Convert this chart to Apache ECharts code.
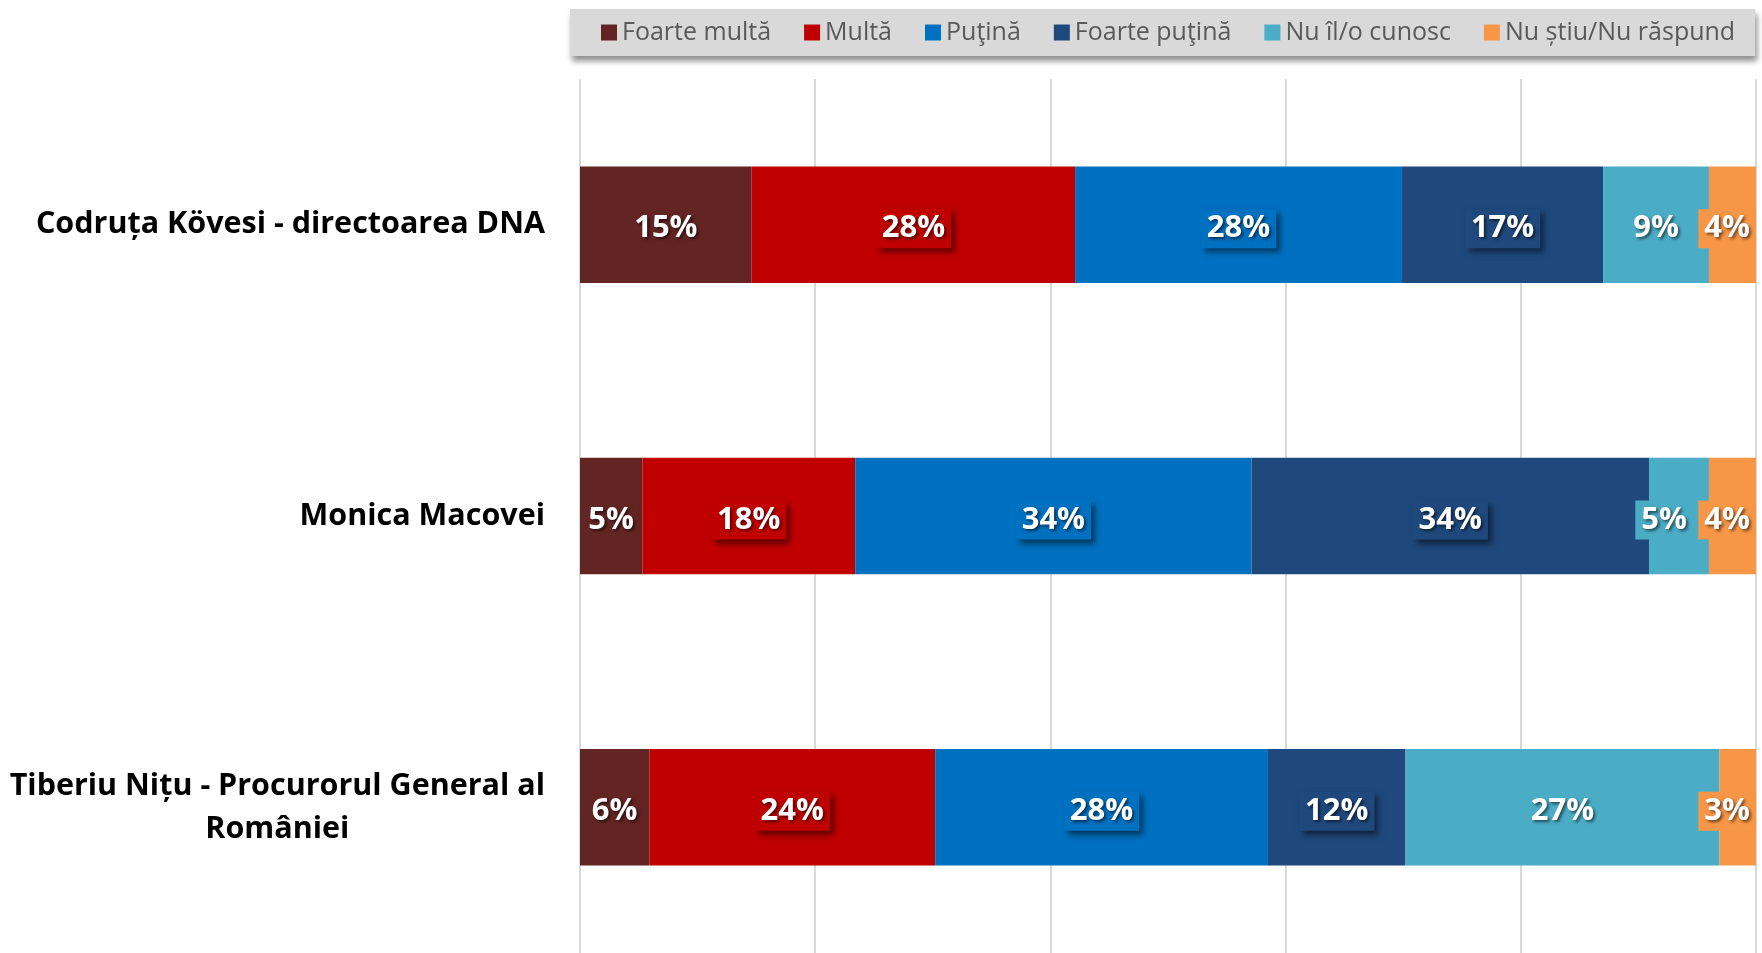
<!DOCTYPE html>
<html>
<head>
<meta charset="utf-8">
<script src="https://cdn.jsdelivr.net/npm/echarts@6/dist/echarts.min.js"></script>
<style>
  html, body { margin: 0; padding: 0; background: #fff; }
  #chart { width: 1762px; height: 953px; }
</style>
</head>
<body>
<div id="chart"></div>
<script>
// categories, top to bottom
const persons = [
  'Codruța Kövesi - directoarea DNA',
  'Monica Macovei',
  'Tiberiu Nițu - Procurorul General al\nRomâniei'
];

const seriesNames = ['Foarte multă', 'Multă', 'Puţină', 'Foarte puţină', 'Nu îl/o cunosc', 'Nu știu/Nu răspund'];

// share of answers (%), one value per person
const foarteMulta   = [14.6, 5.3, 5.9];
const multa         = [27.5, 18.1, 24.3];
const putina        = [27.8, 33.7, 28.3];
const foartePutina  = [17.1, 33.8, 11.7];
const nuCunosc      = [9.0, 5.1, 26.7];
const nuStiu        = [4.0, 4.0, 3.1];

const seriesData = [foarteMulta, multa, putina, foartePutina, nuCunosc, nuStiu];
const colors = ['#632523', '#C00000', '#0070C0', '#1F497D', '#4BACC6', '#F79646'];

const fontFamily = '"Open Sans", "Noto Sans", sans-serif';

let chart = echarts.init(document.getElementById('chart'));

let series = seriesData.map(function (data, i) {
  let boxShadow = (i >= 1 && i <= 3);
  let last = (i === seriesData.length - 1);
  let beforeLast = (i === seriesData.length - 2);
  // small segment next to the last one: push its label left so the boxes don't collide
  let items = data.map(function (v) {
    if (beforeLast && v < 6) {
      return { value: v, label: { position: 'insideRight', offset: [-16, 4] } };
    }
    return v;
  });
  return {
    name: seriesNames[i],
    type: 'bar',
    stack: 'total',
    barCategoryGap: '60%',
    data: items,
    itemStyle: { color: colors[i] },
    label: {
      show: true,
      position: last ? 'insideRight' : 'inside',
      distance: 0,
      offset: [0, 4],
      formatter: function (p) { return Math.round(p.value) + '%'; },
      color: '#fff',
      fontFamily: fontFamily,
      fontWeight: 'bold',
      fontSize: 31,
      backgroundColor: colors[i],
      padding: [5, 6, 3, 6],
      textShadowColor: 'rgba(0,0,0,0.55)',
      textShadowBlur: 3,
      textShadowOffsetX: 2,
      textShadowOffsetY: 2,
      shadowColor: boxShadow ? 'rgba(0,0,0,0.5)' : 'transparent',
      shadowBlur: boxShadow ? 6 : 0,
      shadowOffsetX: boxShadow ? 4 : 0,
      shadowOffsetY: boxShadow ? 4 : 0
    },
    emphasis: { disabled: true }
  };
});

let option = {
  animation: false,
  color: colors,
  legend: {
    data: seriesNames,
    left: 570,
    top: 9,
    padding: [11, 20, 11, 31],
    itemGap: 33,
    itemWidth: 16,
    itemHeight: 16,
    icon: 'rect',
    backgroundColor: '#d9d9d9',
    shadowColor: 'rgba(0,0,0,0.45)',
    shadowBlur: 6,
    shadowOffsetX: 2,
    shadowOffsetY: 5,
    textStyle: {
      color: '#595959',
      fontFamily: fontFamily,
      fontSize: 25
    }
  },
  grid: {
    left: 580,
    right: 6,
    top: 79,
    bottom: 0
  },
  xAxis: {
    type: 'value',
    min: 0,
    max: 100,
    interval: 20,
    axisLabel: { show: false },
    axisLine: { show: false },
    axisTick: { show: false },
    splitLine: { show: true, lineStyle: { color: '#d9d9d9', width: 2 } }
  },
  yAxis: {
    type: 'category',
    inverse: true,
    data: persons,
    axisLine: { show: false },
    axisTick: { show: false },
    axisLabel: {
      margin: 35,
      formatter: function (v) {
        return v.split('\n').map(function (s) { return '{c|' + s + '}'; }).join('\n');
      },
      rich: {
        c: {
          align: 'center',
          color: '#000',
          fontFamily: fontFamily,
          fontWeight: 'bold',
          fontSize: 30.5,
          lineHeight: 43
        }
      }
    }
  },
  series: series
};

chart.setOption(option);
</script>
</body>
</html>
